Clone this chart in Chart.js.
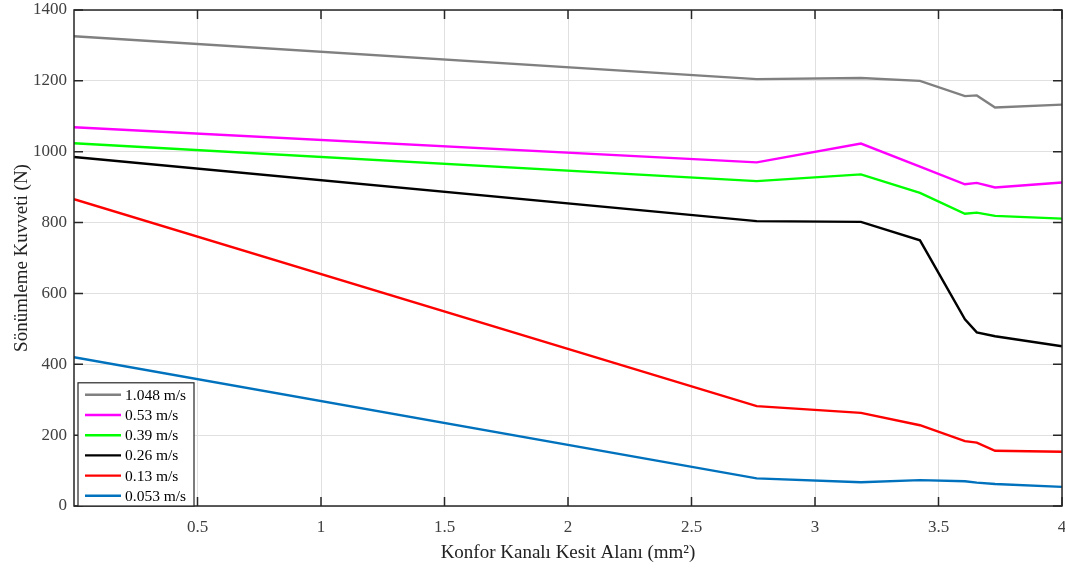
<!DOCTYPE html>
<html><head><meta charset="utf-8">
<script src="https://cdn.jsdelivr.net/npm/chart.js@4.4.0/dist/chart.umd.min.js"></script>
<style>html,body{margin:0;padding:0;background:#fff}#wrap{width:1065px;height:568px}</style>
</head><body><div id="wrap"><canvas id="c" width="1065" height="568"></canvas></div>
<script>
const xValues = [0, 2.764, 3.186, 3.425, 3.607, 3.655, 3.729, 4.0];
const labels = ["1.048 m/s", "0.53 m/s", "0.39 m/s", "0.26 m/s", "0.13 m/s", "0.053 m/s"];
const s1048 = [1326, 1205, 1208, 1200, 1157, 1159, 1125, 1133];
const s053 = [1069, 970, 1023, 958, 908, 912, 899, 913];
const s039 = [1024, 917, 936, 884, 825, 828, 819, 811];
const s026 = [985, 804, 802, 750, 527, 490, 479, 451];
const s013 = [866, 282, 263, 228, 183, 179, 156, 153];
const s0053 = [420, 78, 67, 73, 70, 66, 62, 54];
const colors = ["#808080", "#ff00ff", "#00ff00", "#000000", "#ff0000", "#0072bd"];
const xTicks = [0.5, 1, 1.5, 2, 2.5, 3, 3.5, 4];
const yTicks = [0, 200, 400, 600, 800, 1000, 1200, 1400];

const series = [s1048, s053, s039, s026, s013, s0053];
const FONT = "'Liberation Serif', 'Times New Roman', serif";

const datasets = series.map((s, i) => ({
  label: labels[i],
  data: s.map((v, j) => ({x: xValues[j], y: v})),
  borderColor: colors[i],
  backgroundColor: colors[i],
  borderWidth: 2.4,
  pointRadius: 0,
  tension: 0,
  fill: false
}));

const boxPlugin = {
  id: 'boxPlugin',
  afterDatasetsDraw(chart) {
    const {ctx, chartArea: a, scales: {x, y}} = chart;
    ctx.save();
    ctx.strokeStyle = '#262626';
    ctx.lineWidth = 1.5;
    ctx.strokeRect(a.left, a.top, a.right - a.left, a.bottom - a.top);
    const tl = 9;
    ctx.beginPath();
    xTicks.forEach(t => {
      const px = x.getPixelForValue(t);
      ctx.moveTo(px, a.bottom); ctx.lineTo(px, a.bottom - tl);
      ctx.moveTo(px, a.top); ctx.lineTo(px, a.top + tl);
    });
    yTicks.forEach(t => {
      const py = y.getPixelForValue(t);
      ctx.moveTo(a.left, py); ctx.lineTo(a.left + tl, py);
      ctx.moveTo(a.right, py); ctx.lineTo(a.right - tl, py);
    });
    ctx.stroke();

    // legend
    const lx = a.left + 4, lw = 116, rowH = 20.2, lh = rowH * labels.length + 2;
    const ly = a.bottom - lh;
    ctx.fillStyle = '#fff';
    ctx.fillRect(lx, ly, lw, lh);
    ctx.strokeStyle = '#262626';
    ctx.lineWidth = 1.2;
    ctx.strokeRect(lx, ly, lw, lh);
    ctx.font = '15.5px ' + FONT;
    ctx.textBaseline = 'middle';
    ctx.textAlign = 'left';
    labels.forEach((lab, i) => {
      const cy = ly + 12 + i * rowH;
      ctx.strokeStyle = colors[i];
      ctx.lineWidth = 2.4;
      ctx.beginPath();
      ctx.moveTo(lx + 7, cy); ctx.lineTo(lx + 43, cy);
      ctx.stroke();
      ctx.fillStyle = '#000';
      ctx.fillText(lab, lx + 47, cy + 1);
    });
    ctx.restore();
  }
};

new Chart(document.getElementById('c'), {
  type: 'line',
  data: {datasets},
  options: {
    responsive: false,
    animation: false,
    layout: {padding: {top: 10, right: 3, left: 0, bottom: 0}},
    plugins: {legend: {display: false}, tooltip: {enabled: false}},
    scales: {
      x: {
        type: 'linear', min: 0, max: 4,
        afterFit(s) { s.height = 62; s.paddingLeft = 0; s.paddingRight = 0; },
        afterBuildTicks(s) { s.ticks = xTicks.map(v => ({value: v})); },
        grid: {color: '#e0e0e0', lineWidth: 1, drawTicks: false},
        border: {display: false},
        ticks: {padding: 11, color: '#404040', font: {family: FONT, size: 17}, maxRotation: 0,
          callback: v => String(v)},
        title: {display: true, text: 'Konfor Kanalı Kesit Alanı (mm²)', color: '#222',
          font: {family: FONT, size: 19}, padding: {top: 0}}
      },
      y: {
        type: 'linear', min: 0, max: 1400,
        afterFit(s) { s.width = 74; s.paddingTop = 0; s.paddingBottom = 0; },
        afterBuildTicks(s) { s.ticks = yTicks.map(v => ({value: v})); },
        grid: {color: '#e0e0e0', lineWidth: 1, drawTicks: false},
        border: {display: false},
        ticks: {padding: 7, color: '#404040', font: {family: FONT, size: 17},
          callback: v => String(v)},
        title: {display: true, text: 'Sönümleme Kuvveti (N)', color: '#222',
          font: {family: FONT, size: 19}, padding: {top: 11, bottom: 0}}
      }
    }
  },
  plugins: [boxPlugin]
});
</script></body></html>
